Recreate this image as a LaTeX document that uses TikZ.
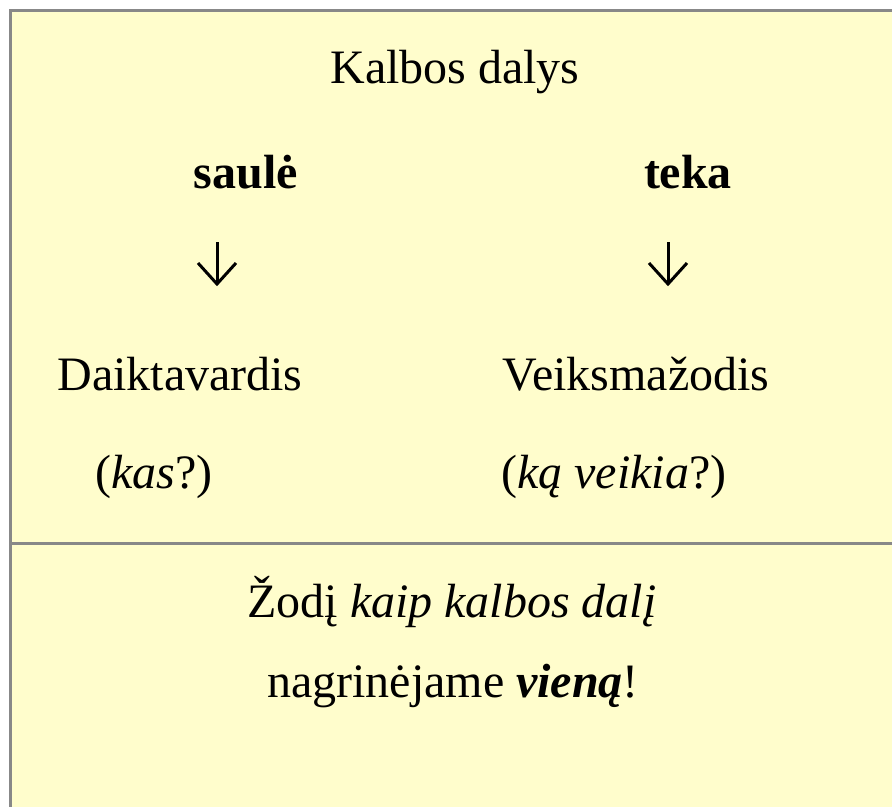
\documentclass[tikz,border=0pt]{standalone}
\usepackage{fontspec}
\usetikzlibrary{calc}
\setmainfont{Liberation Serif}
\definecolor{paper}{HTML}{FFFDCC}
\definecolor{rule}{HTML}{888888}
\begin{document}
\begin{tikzpicture}[x=1pt,y=-1pt,
  txt/.style={anchor=base,inner sep=0pt,font=\fontsize{48}{56}\selectfont},
  frame/.style={draw=rule,line width=3pt},
  downarrow/.style={draw=black,line width=3pt,line cap=butt,line join=miter}]
\useasboundingbox (0,0) rectangle (892,807);
\fill[white] (0,0) rectangle (892,807);
\fill[paper] (11,11) rectangle (892,807);
\draw[frame] (10.5,9) -- (10.5,807);
\draw[frame] (9,10.5) -- (892,10.5);
\draw[frame] (12,543) -- (892,543);
\node[txt] (title) at (455,83) {Kalbos dalys};
\node[txt] (w1) at (246,188) {\textbf{saulė}};
\node[txt] (w2) at (688,188) {\textbf{teka}};
\coordinate (a1t) at (217,242);
\coordinate (a1b) at (217,284);
\coordinate (a2t) at (668,242);
\coordinate (a2b) at (668,284);
\draw[downarrow] (a1t) -- (a1b);
\draw[downarrow] ($(a1b)+(-19,-21)$) -- (a1b) -- ($(a1b)+(19,-21)$);
\draw[downarrow] (a2t) -- (a2b);
\draw[downarrow] ($(a2b)+(-19,-21)$) -- (a2b) -- ($(a2b)+(19,-21)$);
\node[txt] (p1) at (180,390) {Daiktavardis};
\node[txt] (p2) at (636,390) {Veiksmažodis};
\node[txt] (q1) at (154,488) {(\textit{kas}?)};
\node[txt] (q2) at (614,488) {(\textit{ką veikia}?)};
\node[txt] (b1) at (452,617) {Žodį \textit{kaip kalbos dalį}};
\node[txt] (b2) at (453,697) {nagrinėjame \textbf{\textit{vieną}}!};
\end{tikzpicture}
\end{document}
